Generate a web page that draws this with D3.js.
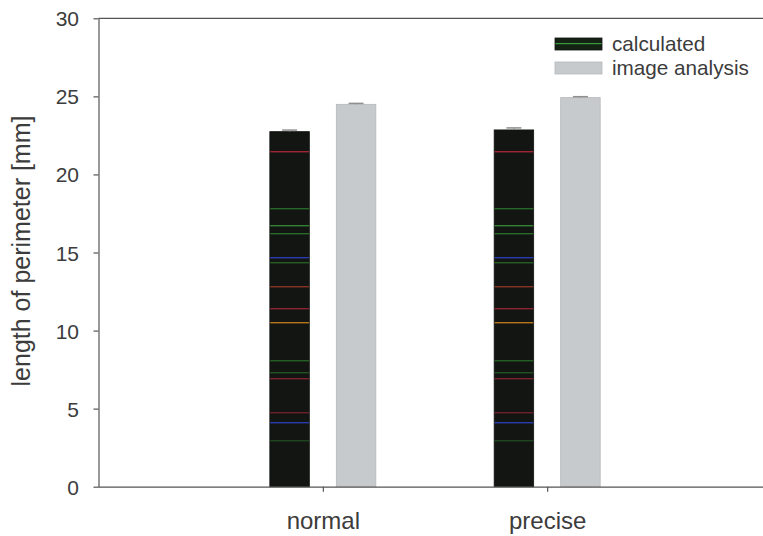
<!DOCTYPE html>
<html>
<head>
<meta charset="utf-8">
<script src="https://cdn.jsdelivr.net/npm/d3@7"></script>
<style>
  html, body { margin: 0; padding: 0; background: #ffffff; }
  svg { display: block; }
  text { font-family: "Liberation Sans", Arial, sans-serif; fill: #3c3c3c; }
</style>
</head>
<body>
<svg id="chart" width="763" height="536"></svg>
<script>
const categories = ["normal", "precise"];
const seriesNames = ["calculated", "image analysis"];
const calculatedValues = [22.74, 22.85];
const calculatedErrors = [0.10, 0.13];
const imageValues = [24.49, 24.92];
const imageErrors = [0.06, 0.06];
const yTicks = [0, 5, 10, 15, 20, 25, 30];

(function () {
const svg = d3.select("#chart");
const plotLeft = 98.5, plotTop = 18.3, plotBottom = 486.7, plotRightEnd = 771.5;

const y = d3.scaleLinear().domain([0, 30]).range([plotBottom, plotTop]);
const x = d3.scalePoint().domain(categories).range([plotLeft, plotRightEnd]).padding(1);
const xs = d3.scaleBand().domain(seriesNames).range([-53, 53]).paddingInner(0.406).paddingOuter(0);

// scanned-texture pattern for the dark series (style only)
const defs = svg.append("defs");
const pat = defs.append("pattern").attr("id", "darkTex")
  .attr("patternUnits", "userSpaceOnUse").attr("width", 763).attr("height", 536);
pat.append("rect").attr("width", 763).attr("height", 536).attr("fill", "#121512");
const stripeStyles = [
  [151, "#b0283a", 0.9], [208, "#2d8a2d", 0.7], [225, "#3aa03a", 0.8], [233, "#2f8f2f", 0.7],
  [257, "#2a3fc0", 0.9], [262, "#2f8f2f", 0.6], [286, "#b8402a", 0.7], [308, "#a8283a", 0.8],
  [322, "#c8801a", 0.9], [360, "#2f8f2f", 0.6], [372, "#2f8f2f", 0.5], [378, "#a8283a", 0.7],
  [412, "#a8283a", 0.6], [422, "#2a3fc0", 0.9], [440, "#2f8f2f", 0.4]
];
stripeStyles.forEach(s => {
  pat.append("rect").attr("x", 0).attr("y", s[0]).attr("width", 763).attr("height", 1.4)
    .attr("fill", s[1]).attr("opacity", s[2]);
});
const patL = defs.append("pattern").attr("id", "darkTexLegend")
  .attr("patternUnits", "objectBoundingBox").attr("width", 1).attr("height", 1);
patL.append("rect").attr("width", 47).attr("height", 12).attr("fill", "#142214");
patL.append("rect").attr("y", 5).attr("width", 47).attr("height", 1.2).attr("fill", "#3a9a3a");

const fills = { "calculated": "url(#darkTex)", "image analysis": "#c6cacd" };
const legendFills = { "calculated": "url(#darkTexLegend)", "image analysis": "#c6cacd" };
const strokes = { "calculated": "#101210", "image analysis": "#b4b8bb" };

const rows = [];
categories.forEach((c, i) => {
  rows.push({ cat: c, s: "calculated", v: calculatedValues[i], e: calculatedErrors[i] });
  rows.push({ cat: c, s: "image analysis", v: imageValues[i], e: imageErrors[i] });
});

// bars
svg.append("g").selectAll("rect").data(rows).join("rect")
  .attr("x", d => x(d.cat) + xs(d.s))
  .attr("y", d => y(d.v))
  .attr("width", xs.bandwidth())
  .attr("height", d => y(0) - y(d.v))
  .attr("fill", d => fills[d.s])
  .attr("stroke", d => strokes[d.s])
  .attr("stroke-width", 0.8);

// error bars
const eb = svg.append("g");
eb.selectAll("line.v").data(rows).join("line").attr("class", "v")
  .attr("x1", d => x(d.cat) + xs(d.s) + xs.bandwidth() / 2)
  .attr("x2", d => x(d.cat) + xs(d.s) + xs.bandwidth() / 2)
  .attr("y1", d => y(d.v))
  .attr("y2", d => y(d.v + d.e))
  .attr("stroke", "#8a8a8a").attr("stroke-width", 1);
eb.selectAll("line.c").data(rows).join("line").attr("class", "c")
  .attr("x1", d => x(d.cat) + xs(d.s) + xs.bandwidth() / 2 - 7.5)
  .attr("x2", d => x(d.cat) + xs(d.s) + xs.bandwidth() / 2 + 7.5)
  .attr("y1", d => y(d.v + d.e))
  .attr("y2", d => y(d.v + d.e))
  .attr("stroke", "#8f8f8f").attr("stroke-width", 1.5);

// top border
svg.append("line")
  .attr("x1", plotLeft).attr("x2", 763).attr("y1", plotTop).attr("y2", plotTop)
  .attr("stroke", "#555").attr("stroke-width", 1.2);

// y axis
const yAxis = svg.append("g").attr("transform", `translate(${plotLeft},0)`)
  .call(d3.axisLeft(y).tickValues(yTicks).tickSize(5).tickPadding(14.5).tickSizeOuter(0));
yAxis.select(".domain").attr("stroke", "#555").attr("stroke-width", 1.2);
yAxis.selectAll(".tick line").attr("stroke", "#555").attr("stroke-width", 1.2);
yAxis.selectAll(".tick text")
  .attr("font-size", 21).attr("fill", "#3a3a3a")
  .style("font-family", "'Liberation Sans', Arial, sans-serif")
  .attr("dy", "0.36em");

// x axis
const xAxis = svg.append("g").attr("transform", `translate(0,${plotBottom})`)
  .call(d3.axisBottom(x).tickSize(5).tickPadding(20).tickSizeOuter(0));
xAxis.select(".domain").attr("d", `M${plotLeft},0.5H763`).attr("stroke", "#555").attr("stroke-width", 1.2);
xAxis.selectAll(".tick line").attr("stroke", "#555").attr("stroke-width", 1.2);
xAxis.selectAll(".tick text")
  .attr("font-size", 24).attr("fill", "#3a3a3a")
  .style("font-family", "'Liberation Sans', Arial, sans-serif")
  .attr("dy", "0.71em");

// y axis title
svg.append("text")
  .attr("transform", `translate(30,${(112 + 390) / 2}) rotate(-90)`)
  .attr("text-anchor", "middle")
  .attr("font-size", 25)
  .attr("fill", "#3a3a3a")
  .text("length of perimeter [mm]");

// legend
const legend = svg.append("g");
seriesNames.forEach((s, i) => {
  const ly = 38 + i * 24;
  legend.append("rect")
    .attr("x", 555).attr("y", ly).attr("width", 47).attr("height", 12)
    .attr("fill", legendFills[s]).attr("stroke", strokes[s]).attr("stroke-width", 0.8);
  legend.append("text")
    .attr("x", 612).attr("y", ly + 13)
    .attr("font-size", 20.7).attr("fill", "#3a3a3a")
    .text(s);
});
})();
</script>
</body>
</html>
